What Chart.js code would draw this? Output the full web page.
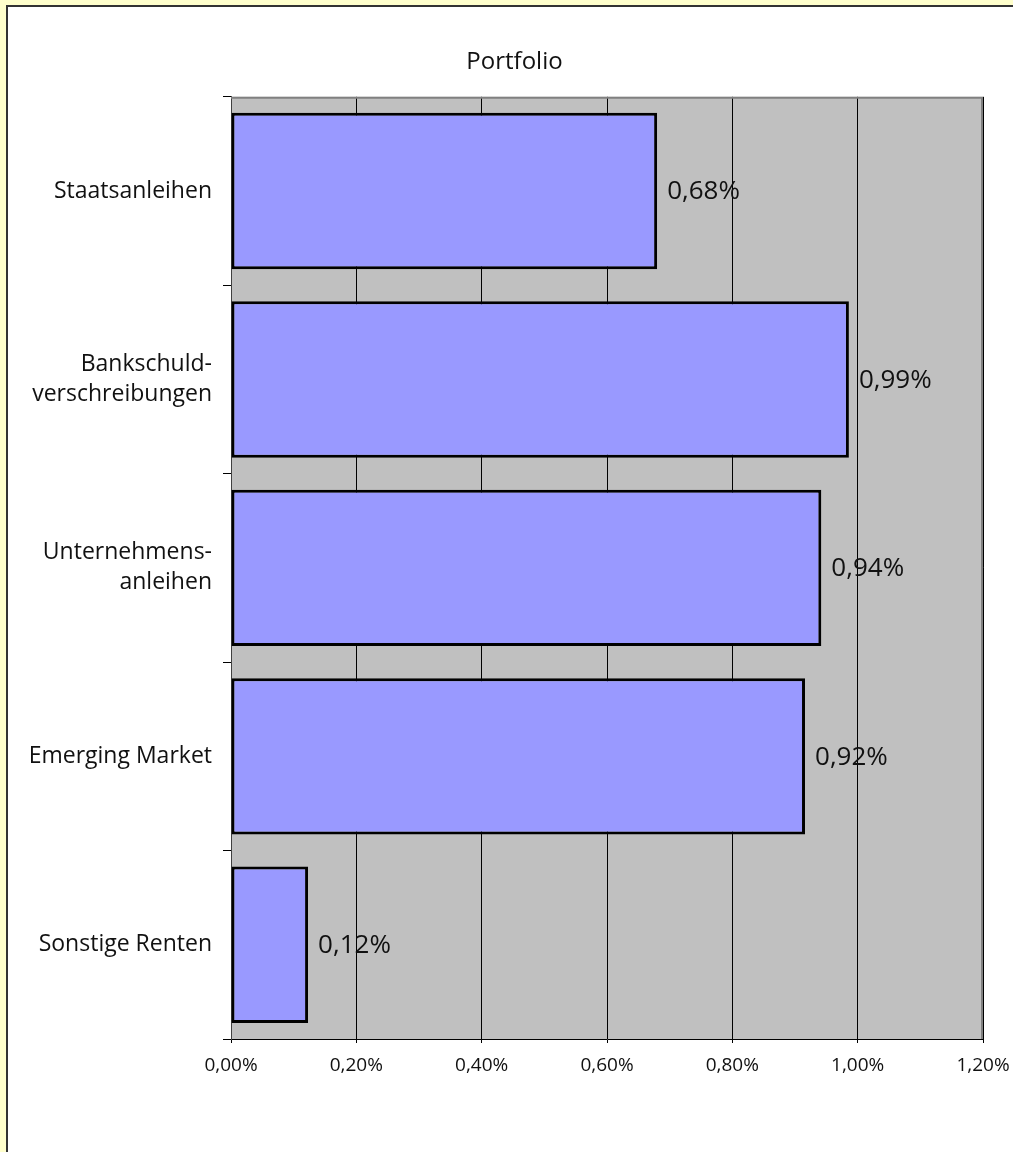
<!DOCTYPE html>
<html>
<head>
<meta charset="utf-8">
<script src="https://cdn.jsdelivr.net/npm/chart.js@4.4.1/dist/chart.umd.min.js"></script>
<style>
  html, body { margin: 0; padding: 0; background: #FFFFCC; overflow: hidden; }
  #panel { position: absolute; left: 6px; top: 5px; width: 1100px; height: 1200px;
           border: 2px solid #333333; background: #ffffff; }
  #wrap { position: absolute; left: 0; top: 0; width: 1013px; height: 1145px; }
</style>
</head>
<body>
<div id="panel"><div id="wrap"><canvas id="c"></canvas></div></div>
<script>
const categories = ["Staatsanleihen", ["Bankschuld-", "verschreibungen"], ["Unternehmens-", "anleihen"], "Emerging Market", "Sonstige Renten"];
const values = [0.68, 0.986, 0.942, 0.916, 0.123];
const xTicks = [0, 0.2, 0.4, 0.6, 0.8, 1.0, 1.2];
const chartTitle = "Portfolio";

const FONT = "'Open Sans', 'Noto Sans', sans-serif";
const fmt = v => Number(v).toFixed(2).replace('.', ',') + '%';

const plotBg = {
  id: 'plotBg',
  beforeDraw(chart) {
    const a = chart.chartArea, ctx = chart.ctx;
    ctx.save();
    ctx.fillStyle = '#C0C0C0';
    ctx.fillRect(a.left, a.top, a.right - a.left, a.bottom - a.top);
    ctx.restore();
  },
  afterDraw(chart) {
    const a = chart.chartArea, ctx = chart.ctx;
    ctx.save();
    ctx.strokeStyle = '#808080';
    ctx.lineWidth = 2;
    ctx.beginPath();
    ctx.moveTo(a.left, a.top + 1);
    ctx.lineTo(a.right - 1, a.top + 1);
    ctx.lineTo(a.right - 1, a.bottom);
    ctx.stroke();
    ctx.restore();
  }
};

const valueLabels = {
  id: 'valueLabels',
  afterDatasetsDraw(chart) {
    const ctx = chart.ctx;
    const meta = chart.getDatasetMeta(0);
    ctx.save();
    ctx.font = "26px " + FONT;
    ctx.fillStyle = '#111';
    ctx.textAlign = 'left';
    ctx.textBaseline = 'middle';
    meta.data.forEach((bar, i) => {
      ctx.fillText(fmt(chart.data.datasets[0].data[i]), bar.x + 10, bar.y + 1);
    });
    ctx.restore();
  }
};

new Chart(document.getElementById('c'), {
  type: 'bar',
  data: {
    labels: categories,
    datasets: [{
      data: values,
      backgroundColor: '#9999FF',
      borderColor: '#000000',
      borderWidth: 3,
      borderSkipped: false,
      barPercentage: 0.83,
      categoryPercentage: 1.0
    }]
  },
  options: {
    indexAxis: 'y',
    responsive: true,
    maintainAspectRatio: false,
    animation: false,
    layout: { padding: 0 },
    plugins: {
      legend: { display: false },
      tooltip: { enabled: false },
      title: {
        display: true,
        text: chartTitle,
        color: '#111',
        font: { family: FONT, size: 24, weight: 'normal', lineHeight: 1.2 },
        padding: { top: 41, bottom: 20 }
      }
    },
    scales: {
      x: {
        min: 0, max: 1.2,
        afterBuildTicks(scale) { scale.ticks = xTicks.map(v => ({ value: v })); },
        afterFit(scale) { scale.height = 113; scale.paddingRight = 38; },
        ticks: {
          callback: v => fmt(v),
          color: '#111',
          font: { family: FONT, size: 19, lineHeight: 1.2 },
          padding: 11,
          maxRotation: 0
        },
        grid: { color: '#000000', lineWidth: 1, tickLength: 4, tickColor: '#000000' },
        border: { color: '#000000', width: 1 }
      },
      y: {
        afterFit(scale) { scale.width = 223; },
        ticks: {
          color: '#111',
          font: { family: FONT, size: 23, lineHeight: 1.3 },
          padding: 11
        },
        grid: { drawOnChartArea: false, tickLength: 8, tickColor: '#000000', lineWidth: 1, offset: true },
        border: { color: '#404040', width: 1 }
      }
    }
  },
  plugins: [plotBg, valueLabels]
});
</script>
</body>
</html>
